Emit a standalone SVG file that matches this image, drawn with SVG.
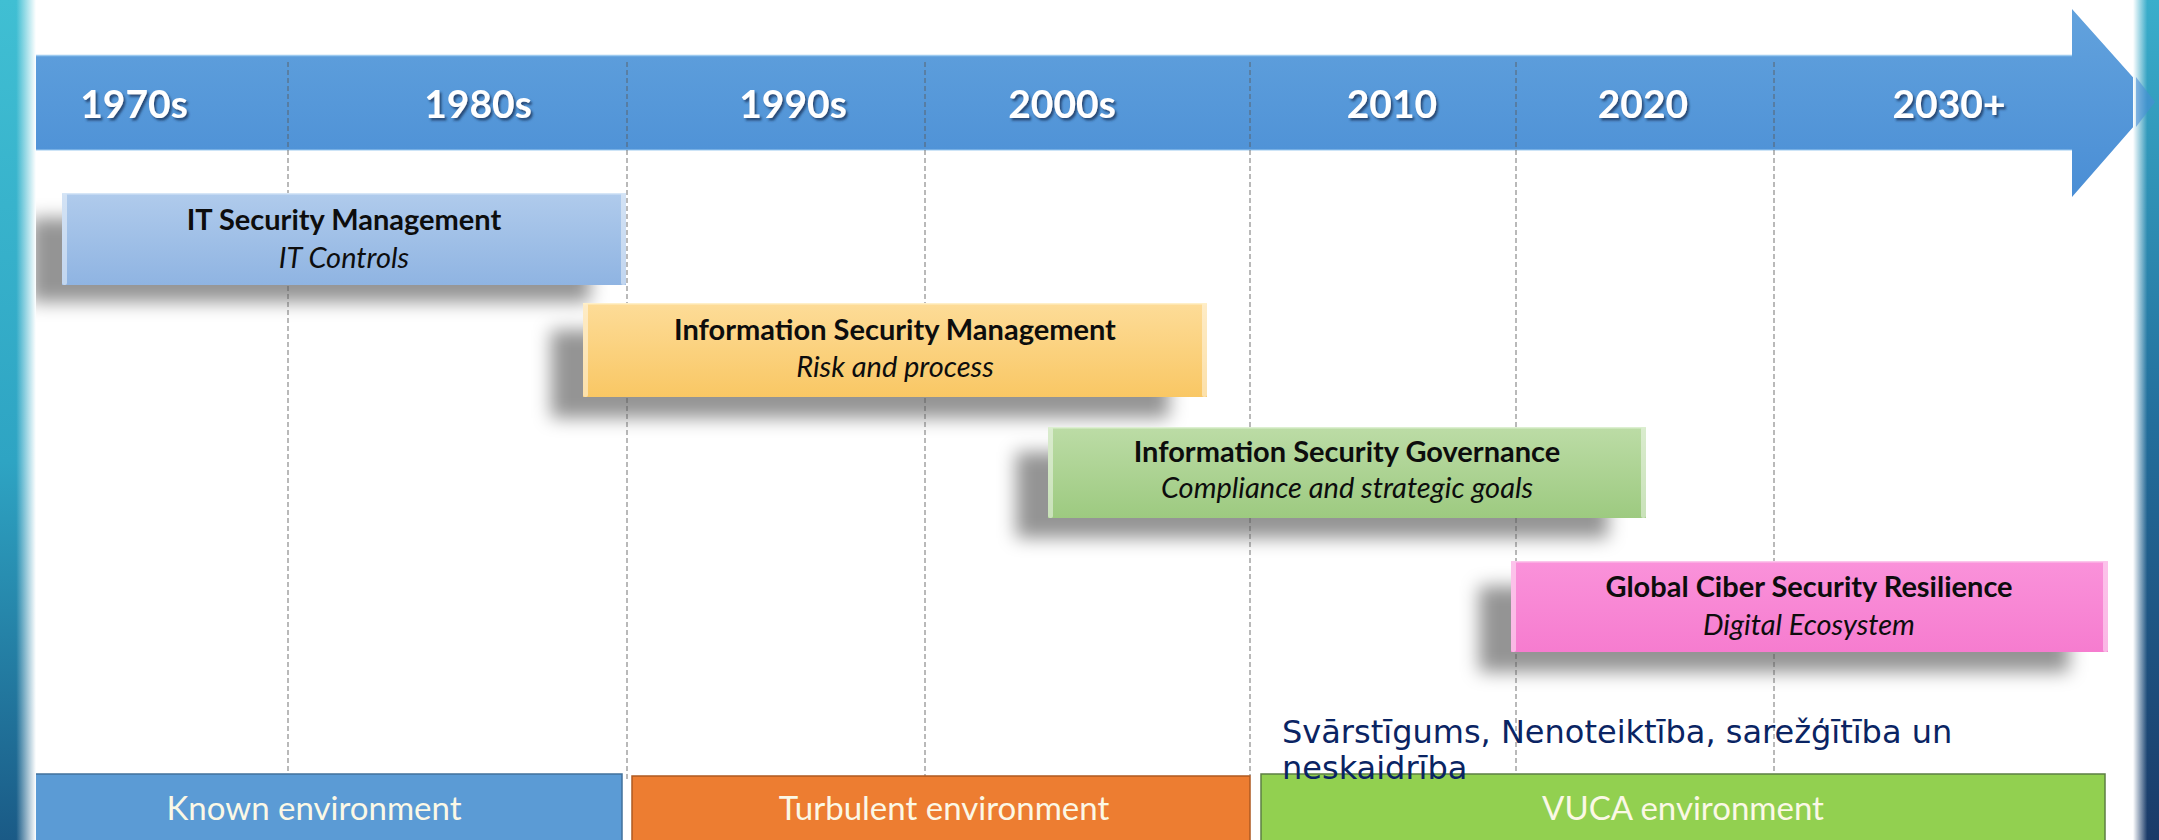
<svg xmlns="http://www.w3.org/2000/svg" width="2159" height="840" viewBox="0 0 2159 840">
  <defs>
    <linearGradient id="gBand" x1="0" y1="0" x2="0" y2="1">
      <stop offset="0" stop-color="#62a2dd"/>
      <stop offset="1" stop-color="#4a8ed5"/>
    </linearGradient>
    <linearGradient id="gBlue" x1="0" y1="0" x2="0" y2="1">
      <stop offset="0" stop-color="#b0cbec"/>
      <stop offset="1" stop-color="#8fb4e2"/>
    </linearGradient>
    <linearGradient id="gOrange" x1="0" y1="0" x2="0" y2="1">
      <stop offset="0" stop-color="#fddc98"/>
      <stop offset="1" stop-color="#f9c764"/>
    </linearGradient>
    <linearGradient id="gGreen" x1="0" y1="0" x2="0" y2="1">
      <stop offset="0" stop-color="#bcdca6"/>
      <stop offset="1" stop-color="#9dca80"/>
    </linearGradient>
    <linearGradient id="gPink" x1="0" y1="0" x2="0" y2="1">
      <stop offset="0" stop-color="#fa92da"/>
      <stop offset="1" stop-color="#f67ccf"/>
    </linearGradient>
    <linearGradient id="gLeftV" x1="0" y1="0" x2="0" y2="1">
      <stop offset="0" stop-color="#40bfd3"/>
      <stop offset="0.55" stop-color="#2ea4c3"/>
      <stop offset="1" stop-color="#1a5a86"/>
    </linearGradient>
    <linearGradient id="gLeftFade" x1="0" y1="0" x2="1" y2="0">
      <stop offset="0" stop-color="#fff" stop-opacity="0"/>
      <stop offset="0.45" stop-color="#fff" stop-opacity="0"/>
      <stop offset="1" stop-color="#fff" stop-opacity="1"/>
    </linearGradient>
    <linearGradient id="gRightV" x1="0" y1="0" x2="0" y2="1">
      <stop offset="0" stop-color="#3aaecb"/>
      <stop offset="0.5" stop-color="#236f9c"/>
      <stop offset="1" stop-color="#1a3a68"/>
    </linearGradient>
    <linearGradient id="gRightFade" x1="0" y1="0" x2="1" y2="0">
      <stop offset="0" stop-color="#fff" stop-opacity="1"/>
      <stop offset="0.55" stop-color="#fff" stop-opacity="0"/>
      <stop offset="1" stop-color="#fff" stop-opacity="0"/>
    </linearGradient>
    <filter id="fShadow" x="-20%" y="-50%" width="140%" height="200%">
      <feGaussianBlur stdDeviation="9"/>
    </filter>
    <filter id="fText" x="-10%" y="-30%" width="120%" height="160%">
      <feDropShadow dx="2" dy="2.5" stdDeviation="1" flood-color="#1c3d66" flood-opacity="0.85"/>
    </filter>
    <style>
      .year { font-family: Lato, "Liberation Sans", sans-serif; font-weight: 700; font-size: 39px; fill: #ffffff; text-anchor: middle; }
      .title { font-family: Lato, "Liberation Sans", sans-serif; font-weight: 700; font-size: 29px; fill: #0d0d0d; text-anchor: middle; }
      .sub { font-family: Lato, "Liberation Sans", sans-serif; font-style: italic; font-size: 29px; fill: #0d0d0d; text-anchor: middle; }
      .env { font-family: Lato, "Liberation Sans", sans-serif; font-size: 33px; fill: #fbf8e6; text-anchor: middle; }
      .note { font-family: "DejaVu Sans", Verdana, sans-serif; font-size: 32px; fill: #0a2463; }
      .grid { stroke: #5a5a5a; stroke-opacity: 0.7; stroke-width: 1.2; stroke-dasharray: 5 3; fill: none; }
      .shadow { fill: #000; fill-opacity: 0.42; filter: url(#fShadow); }
      .edge { fill: #ffffff; fill-opacity: 0.45; }
    </style>
  </defs>

  <rect x="0" y="0" width="2159" height="840" fill="#ffffff"/>

  <!-- timeline arrow -->
  <g id="timeline">
    <polygon points="8,55 2072,55 2072,9 2155,102 2072,197 2072,150 8,150" fill="url(#gBand)"/>
    <line x1="8" y1="55.5" x2="2072" y2="55.5" stroke="#9ccaf0" stroke-width="1.5"/>
    <line x1="8" y1="150" x2="2072" y2="150" stroke="#9ccaf0" stroke-width="1"/>
    <text class="year" x="134" y="118" filter="url(#fText)">1970s</text>
    <text class="year" x="478" y="118" filter="url(#fText)">1980s</text>
    <text class="year" x="793" y="118" filter="url(#fText)">1990s</text>
    <text class="year" x="1062" y="118" filter="url(#fText)">2000s</text>
    <text class="year" x="1392" y="118" filter="url(#fText)">2010</text>
    <text class="year" x="1643" y="118" filter="url(#fText)">2020</text>
    <text class="year" x="1949" y="118" filter="url(#fText)">2030+</text>
  </g>

  <!-- shadows -->
  <g id="shadows">
    <rect class="shadow" x="30" y="218" width="560" height="84"/>
    <rect class="shadow" x="551" y="330" width="618" height="88"/>
    <rect class="shadow" x="1016" y="452" width="592" height="86"/>
    <rect class="shadow" x="1479" y="586" width="590" height="86"/>
  </g>

  <!-- connectors: dashed period dividers -->
  <g id="connectors">
    <line class="grid" x1="288" y1="62" x2="288" y2="774"/>
    <line class="grid" x1="627" y1="62" x2="627" y2="780"/>
    <line class="grid" x1="925" y1="62" x2="925" y2="776"/>
    <line class="grid" x1="1250" y1="62" x2="1250" y2="776"/>
    <line class="grid" x1="1516" y1="62" x2="1516" y2="774"/>
    <line class="grid" x1="1774" y1="62" x2="1774" y2="774"/>
  </g>

  <g id="box-it">
    <rect x="62" y="193" width="564" height="92" fill="url(#gBlue)"/>
    <rect class="edge" x="62" y="193" width="5" height="92" rx="2"/>
    <rect class="edge" x="621" y="193" width="5" height="92" rx="2"/>
    <rect x="62" y="193" width="564" height="1.5" fill="#d6e6f7"/>
    <text class="title" x="344" y="230">IT Security Management</text>
    <text class="sub" x="344" y="268">IT Controls</text>
  </g>

  <g id="box-ism">
    <rect x="583" y="303" width="624" height="94" fill="url(#gOrange)"/>
    <rect class="edge" x="583" y="303" width="5" height="94" rx="2"/>
    <rect class="edge" x="1202" y="303" width="5" height="94" rx="2"/>
    <rect x="583" y="303" width="624" height="1.5" fill="#fff0c8"/>
    <text class="title" x="895" y="340">Information Security Management</text>
    <text class="sub" x="895" y="377">Risk and process</text>
  </g>

  <g id="box-isg">
    <rect x="1048" y="427" width="598" height="91" fill="url(#gGreen)"/>
    <rect class="edge" x="1048" y="427" width="5" height="91" rx="2"/>
    <rect class="edge" x="1641" y="427" width="5" height="91" rx="2"/>
    <rect x="1048" y="427" width="598" height="1.5" fill="#dcefd0"/>
    <text class="title" x="1347" y="462">Information Security Governance</text>
    <text class="sub" x="1347" y="498">Compliance and strategic goals</text>
  </g>

  <g id="box-gcsr">
    <rect x="1511" y="561" width="597" height="91" fill="url(#gPink)"/>
    <rect class="edge" x="1511" y="561" width="5" height="91" rx="2"/>
    <rect class="edge" x="2103" y="561" width="5" height="91" rx="2"/>
    <rect x="1511" y="561" width="597" height="1.5" fill="#fcc6ec"/>
    <text class="title" x="1809" y="597">Global Ciber Security Resilience</text>
    <text class="sub" x="1809" y="635">Digital Ecosystem</text>
  </g>

  <g id="env-known">
    <rect x="7" y="774" width="615" height="70" fill="#5b9bd5" stroke="#41719c" stroke-width="1.5"/>
    <text class="env" x="314" y="820">Known environment</text>
  </g>

  <g id="env-turbulent">
    <rect x="632" y="776" width="618" height="68" fill="#ed7d31" stroke="#ae5a21" stroke-width="1.5"/>
    <text class="env" x="944" y="820">Turbulent environment</text>
  </g>

  <g id="env-vuca">
    <rect x="1261" y="774" width="844" height="70" fill="#92d050" stroke="#5c7f43" stroke-width="1.5"/>
    <text class="env" x="1683" y="820">VUCA environment</text>
  </g>

  <g id="note">
    <text class="note" x="1282" y="743">Svārstīgums, Nenoteiktība, sarežģītība un</text>
    <text class="note" x="1282" y="779">neskaidrība</text>
  </g>

  <!-- frame edges -->
  <rect x="0" y="0" width="36" height="840" fill="url(#gLeftV)"/>
  <rect x="0" y="0" width="36" height="840" fill="url(#gLeftFade)"/>
  <rect x="2133" y="0" width="26" height="840" fill="url(#gRightV)"/>
  <rect x="2133" y="0" width="26" height="840" fill="url(#gRightFade)"/>
  <polygon points="2136,77 2155,102 2136,127" fill="#4a8ed5" fill-opacity="0.6"/>
</svg>
